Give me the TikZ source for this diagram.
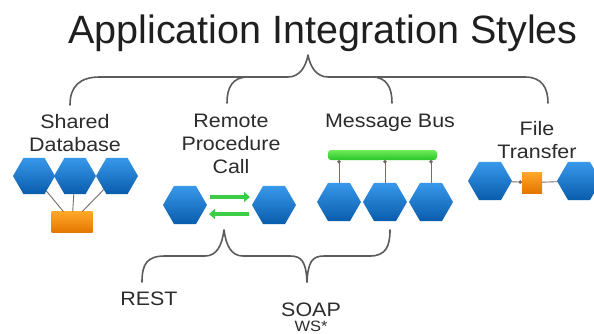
\documentclass[tikz,border=0pt]{standalone}
\usepackage{fontspec}
\setmainfont{Liberation Sans}
\newfontfamily\lblfont{Liberation Sans}[FakeStretch=1.1]
\usetikzlibrary{shapes.geometric,arrows.meta}
\definecolor{hexlight}{RGB}{56,152,234}
\definecolor{hexdark}{RGB}{10,92,172}
\definecolor{orlight}{RGB}{255,168,40}
\definecolor{ordark}{RGB}{228,118,0}
\definecolor{buslight}{RGB}{110,236,90}
\definecolor{busdark}{RGB}{40,196,40}
\definecolor{arrowgreen}{RGB}{60,204,70}
\definecolor{bracegray}{RGB}{92,92,92}
\definecolor{linkgray}{RGB}{120,108,100}
\definecolor{dotgray}{RGB}{70,62,58}
\definecolor{textgray}{RGB}{44,44,44}
\tikzset{dottip/.tip={Circle[length=3.5pt,fill=dotgray]}}
\begin{document}
\begin{tikzpicture}[x=1pt,y=-1pt,
  hexa/.style={regular polygon, regular polygon sides=6, minimum size=#1,
    inner sep=0pt, outer sep=0pt, draw=none, top color=hexlight, bottom color=hexdark},
  hexa/.default=44pt,
  box/.style={rectangle, inner sep=0pt, outer sep=0pt, draw=none,
    top color=orlight, bottom color=ordark},
  bus/.style={rectangle, rounded corners=3pt, inner sep=0pt, outer sep=0pt,
    minimum width=109pt, minimum height=10pt, draw=none,
    top color=buslight, bottom color=busdark},
  lbl/.style={font=\lblfont\fontsize{19.5}{23}\selectfont, text=textgray,
    align=center, inner sep=0pt},
  bracestyle/.style={draw=bracegray, line width=1.6pt, line cap=round, line join=round},
  link/.style={draw=linkgray, line width=0.9pt},
  garrow/.style={draw=arrowgreen, line width=4pt, -{Triangle[length=6pt,width=10pt]}}
]
\clip (0,0) rectangle (594,334);
\fill[white] (0,0) rectangle (594,334);

% title
\node[font=\fontsize{39.5}{44}\selectfont, text=black!88, inner sep=0pt, anchor=base]
  (title) at (323,44) {Application Integration Styles};

% upper brace
\coordinate (bigtip) at (308,55);
\coordinate (endSD) at (70,105);
\coordinate (endRPC) at (227,103);
\coordinate (endMB) at (392,103);
\coordinate (endFT) at (548,103);
\draw[bracestyle] (endSD) .. controls (70,86) and (80,77) .. (100,77) -- (288,77)
  .. controls (300,77) and (306,66) .. (bigtip)
  .. controls (310,66) and (316,77) .. (328,77) -- (525,77)
  .. controls (542,77) and (548,88) .. (endFT);
\draw[bracestyle] (endRPC) .. controls (227,88) and (232,77) .. (248,77);
\draw[bracestyle] (endMB) .. controls (392,88) and (387,77) .. (372,77);

% style labels
\node[lbl, anchor=north] (lblSD) at (75,114) {Shared\\Database};
\node[lbl, anchor=north] (lblRPC) at (231,114) {Remote\\Procedure\\Call};
\node[lbl, anchor=north] (lblMB) at (390,114) {Message Bus};
\node[lbl, anchor=north] (lblFT) at (537,121) {File\\Transfer};

% shared database
\node[hexa=42pt] (sd1) at (34,176) {};
\node[hexa=42pt] (sd2) at (75,176) {};
\node[hexa=42pt] (sd3) at (117,176) {};
\node[box, minimum width=41pt, minimum height=21pt] (db) at (72,222) {};
\draw[link] (sd1) -- (db);
\draw[link] (sd2) -- (db);
\draw[link] (sd3) -- (db);

% remote procedure call
\node[hexa] (rpcL) at (185,205) {};
\node[hexa] (rpcR) at (274,205) {};
\draw[garrow] ([xshift=3pt,yshift=8pt]rpcL.east) -- ([xshift=-2pt,yshift=8pt]rpcR.west);
\draw[garrow] ([xshift=-3pt,yshift=-9pt]rpcR.west) -- ([xshift=2pt,yshift=-9pt]rpcL.east);

% message bus
\node[bus] (bus) at (382.5,155) {};
\node[hexa] (mb1) at (339,202) {};
\node[hexa] (mb2) at (385,202) {};
\node[hexa] (mb3) at (431,202) {};
\draw[link, dottip-] (bus.south -| mb1) -- (mb1);
\draw[link, dottip-] (bus.south -| mb2) -- (mb2);
\draw[link, dottip-] (bus.south -| mb3) -- (mb3);

% file transfer
\node[hexa] (ftL) at (490,181) {};
\node[box, minimum width=20pt, minimum height=21pt] (ftbox) at (532,182.5) {};
\node[hexa] (ftR) at (579,181) {};
\draw[link, -dottip] (ftL) -- (ftbox);
\draw[link] (ftbox) -- (ftR);

% lower brace
\coordinate (lowtip) at (224,230);
\coordinate (endREST) at (142,282);
\coordinate (endSOAP) at (307,282);
\coordinate (endBus) at (390,230);
\draw[bracestyle] (endREST) .. controls (142,264) and (147,256) .. (165,256) -- (205,256)
  .. controls (217,256) and (222,245) .. (lowtip)
  .. controls (226,245) and (231,256) .. (243,256) -- (290,256)
  .. controls (302,256) and (306,262) .. (endSOAP);
\draw[bracestyle] (endSOAP) .. controls (308,262) and (312,256) .. (324,256) -- (370,256)
  .. controls (386,256) and (390,246) .. (endBus);

% protocol labels
\node[lbl, anchor=base] (rest) at (149,305) {REST};
\node[lbl, anchor=base] (soap) at (311,316) {SOAP};
\node[lbl, anchor=base, font=\lblfont\fontsize{15}{17}\selectfont] (ws) at (311,331.5) {WS*};
\end{tikzpicture}
\end{document}
